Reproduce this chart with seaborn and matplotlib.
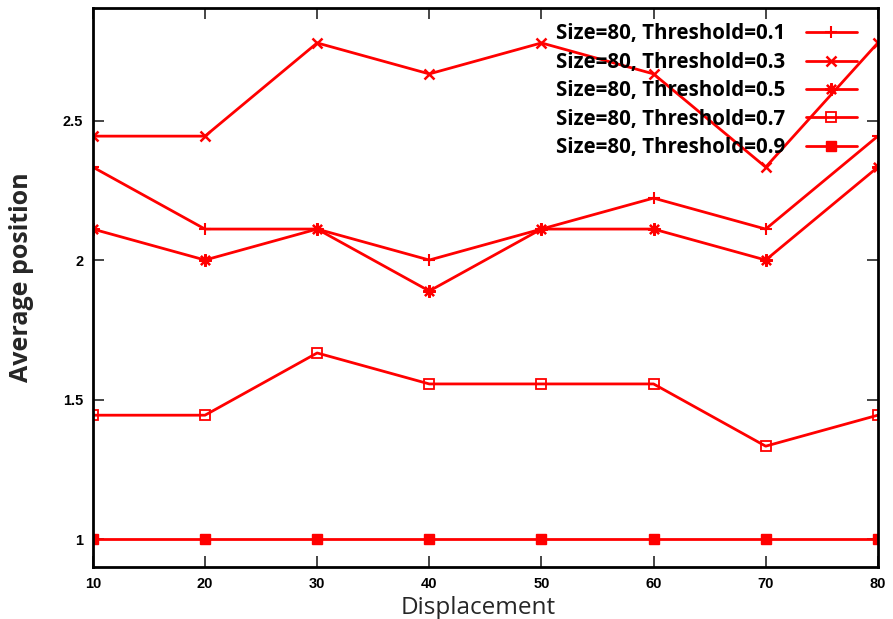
import matplotlib
matplotlib.use("Agg")
import matplotlib.pyplot as plt
import seaborn as sns
import pandas as pd

displacement = [10, 20, 30, 40, 50, 60, 70, 80]
thr_01 = [2.333, 2.111, 2.111, 2.0, 2.111, 2.222, 2.111, 2.444]
thr_03 = [2.444, 2.444, 2.778, 2.667, 2.778, 2.667, 2.333, 2.778]
thr_05 = [2.111, 2.0, 2.111, 1.889, 2.111, 2.111, 2.0, 2.333]
thr_07 = [1.444, 1.444, 1.667, 1.556, 1.556, 1.556, 1.333, 1.444]
thr_09 = [1.0, 1.0, 1.0, 1.0, 1.0, 1.0, 1.0, 1.0]
labels = ["Size=80, Threshold=0.1", "Size=80, Threshold=0.3",
          "Size=80, Threshold=0.5", "Size=80, Threshold=0.7",
          "Size=80, Threshold=0.9"]
series = [thr_01, thr_03, thr_05, thr_07, thr_09]

sns.set_style("ticks")
plt.rcParams['font.family'] = ['Liberation Sans', 'DejaVu Sans']

fig = plt.figure(figsize=(8.93, 6.19), dpi=100)
ax = fig.add_axes([0.104, 0.084, 0.879, 0.903])

styles = [
    dict(marker='+', markersize=9, mew=1.5, mfc='red'),
    dict(marker='x', markersize=7, mew=1.8, mfc='red'),
    dict(marker=(8, 2, 0), markersize=9, mew=1.6, mfc='red'),
    dict(marker='s', markersize=7, mew=1.3, mfc='none'),
    dict(marker='s', markersize=7, mew=1.0, mfc='red'),
]

for vals, lab, st in zip(series, labels, styles):
    df = pd.DataFrame({"Displacement": displacement, "Average position": vals})
    sns.lineplot(data=df, x="Displacement", y="Average position", ax=ax,
                 color='red', linewidth=2, label=lab, mec='red', **st)

ax.set_xlim(10, 80)
ax.set_ylim(0.9, 2.903)
ax.set_xticks(displacement)
ax.set_yticks([1, 1.5, 2, 2.5])
ax.set_yticklabels(['1', '1.5', '2', '2.5'])
ax.tick_params(direction='in', length=8, width=1.2, top=True, right=True,
               labelsize=10.5, pad=7, labelcolor='black')
for t in ax.get_xticklabels() + ax.get_yticklabels():
    t.set_fontweight('bold')
for sp in ax.spines.values():
    sp.set_visible(True)
    sp.set_linewidth(2)
    sp.set_color('black')

ax.set_xlabel("Displacement", fontsize=17.5, family=['Open Sans', 'DejaVu Sans'])
ax.set_ylabel("Average position", fontsize=18, fontweight='bold',
              family=['Open Sans', 'DejaVu Sans'])
ax.xaxis.set_label_coords(0.491, -0.051)
ax.yaxis.set_label_coords(-0.075, 0.519)

leg = ax.legend(loc='upper right', frameon=False, markerfirst=False,
                prop={'family': 'Open Sans', 'weight': 'bold', 'size': 14.8},
                handlelength=2.5, labelspacing=0.36, handletextpad=1.0,
                borderaxespad=0.0, borderpad=0.0,
                bbox_to_anchor=(0.9735, 0.9725))
for t in leg.get_texts():
    t.set_color('black')

fig.savefig("out.png", dpi=100)
